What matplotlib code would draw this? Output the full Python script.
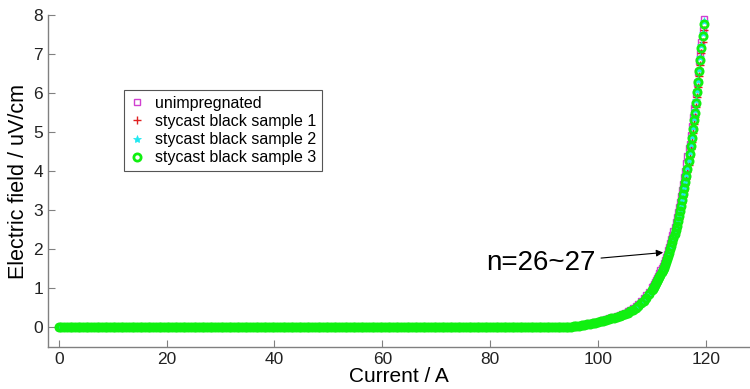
import numpy as np
import matplotlib
matplotlib.use("Agg")
import matplotlib.pyplot as plt

plt.rcParams['font.family'] = ['Liberation Sans', 'DejaVu Sans']

# measurement grid (A): coarse on the flat part, finer on the knee
I_flat = np.arange(0, 90, 0.5)
I_knee = np.arange(90, 110, 0.5)
I_top = np.arange(110, 119.61, 0.2)
current = np.concatenate([I_flat, I_knee, I_top])

# electric field (uV/cm)
E_flat = [0.0] * len(I_flat)

unimp_knee = [0.004, 0.005, 0.006, 0.007, 0.008, 0.010, 0.011, 0.013, 0.014, 0.016,
              0.024, 0.032, 0.040, 0.050, 0.064, 0.074, 0.085, 0.102, 0.115, 0.128,
              0.149, 0.169, 0.192, 0.216, 0.231, 0.248, 0.268, 0.289, 0.315, 0.342,
              0.375, 0.410, 0.450, 0.496, 0.548, 0.606, 0.671, 0.744, 0.826, 0.920]
unimp_top = [1.03, 1.07, 1.11, 1.17, 1.22, 1.27, 1.33, 1.39, 1.46, 1.52,
             1.58, 1.66, 1.73, 1.81, 1.89, 1.98, 2.07, 2.16, 2.26, 2.36,
             2.47, 2.58, 2.70, 2.82, 2.95, 3.08, 3.22, 3.37, 3.52, 3.68,
             3.85, 4.02, 4.21, 4.40, 4.60, 4.71, 4.94, 5.16, 5.39, 5.63,
             5.73, 5.99, 6.26, 6.54, 6.83, 7.02, 7.32, 7.62, 7.90]

s1_knee = [0.004, 0.005, 0.006, 0.007, 0.008, 0.009, 0.010, 0.011, 0.013, 0.014,
           0.022, 0.029, 0.037, 0.046, 0.059, 0.068, 0.078, 0.093, 0.105, 0.116,
           0.135, 0.153, 0.174, 0.196, 0.210, 0.225, 0.243, 0.262, 0.285, 0.310,
           0.340, 0.372, 0.408, 0.450, 0.497, 0.549, 0.608, 0.674, 0.749, 0.834]
s1_top = [0.93, 0.97, 1.01, 1.06, 1.11, 1.15, 1.20, 1.26, 1.32, 1.38,
          1.44, 1.50, 1.57, 1.64, 1.72, 1.79, 1.87, 1.96, 2.05, 2.14,
          2.24, 2.34, 2.44, 2.56, 2.68, 2.79, 2.92, 3.06, 3.19, 3.34,
          3.49, 3.65, 3.81, 3.99, 4.17, 4.36, 4.56, 4.76, 4.98, 5.20,
          5.39, 5.65, 5.90, 6.16, 6.43, 6.72, 7.02, 7.32, 7.61]

s2_knee = [0.004, 0.005, 0.006, 0.007, 0.008, 0.009, 0.010, 0.012, 0.013, 0.015,
           0.023, 0.030, 0.038, 0.047, 0.061, 0.070, 0.080, 0.096, 0.108, 0.120,
           0.139, 0.158, 0.179, 0.202, 0.216, 0.232, 0.250, 0.270, 0.294, 0.320,
           0.350, 0.383, 0.421, 0.464, 0.512, 0.566, 0.627, 0.695, 0.772, 0.860]
s2_top = [0.96, 1.00, 1.04, 1.09, 1.14, 1.19, 1.24, 1.30, 1.36, 1.42,
          1.48, 1.55, 1.62, 1.69, 1.77, 1.85, 1.93, 2.02, 2.11, 2.21,
          2.31, 2.41, 2.52, 2.64, 2.76, 2.88, 3.01, 3.15, 3.29, 3.44,
          3.60, 3.76, 3.93, 4.11, 4.30, 4.49, 4.70, 4.91, 5.13, 5.36,
          5.56, 5.82, 6.08, 6.35, 6.63, 6.93, 7.24, 7.55, 7.85]

s3_knee = [0.004, 0.005, 0.006, 0.007, 0.008, 0.009, 0.010, 0.012, 0.013, 0.015,
           0.023, 0.030, 0.038, 0.047, 0.060, 0.069, 0.079, 0.095, 0.107, 0.119,
           0.138, 0.156, 0.177, 0.200, 0.214, 0.230, 0.248, 0.267, 0.291, 0.317,
           0.347, 0.379, 0.417, 0.459, 0.507, 0.560, 0.621, 0.688, 0.764, 0.851]
s3_top = [0.95, 0.99, 1.03, 1.08, 1.13, 1.18, 1.23, 1.29, 1.35, 1.41,
          1.47, 1.53, 1.60, 1.67, 1.75, 1.83, 1.91, 2.00, 2.09, 2.19,
          2.29, 2.39, 2.49, 2.61, 2.73, 2.85, 2.98, 3.12, 3.26, 3.41,
          3.56, 3.72, 3.89, 4.07, 4.26, 4.45, 4.65, 4.86, 5.08, 5.31,
          5.50, 5.76, 6.02, 6.29, 6.56, 6.86, 7.17, 7.47, 7.77]

E_unimp = E_flat + unimp_knee + unimp_top
E_s1 = E_flat + s1_knee + s1_top
E_s2 = E_flat + s2_knee + s2_top
E_s3 = E_flat + s3_knee + s3_top

labels = ['unimpregnated', 'stycast black sample 1',
          'stycast black sample 2', 'stycast black sample 3']

fig = plt.figure(figsize=(7.5, 3.89), dpi=100)
ax = fig.add_axes([0.064, 0.108, 0.936, 0.853])

ax.plot(current, E_unimp, ls='none', marker='s', ms=4.5, mfc='none',
        mec='#d040d0', mew=1.0, label=labels[0])
ax.plot(current, E_s1, ls='none', marker='+', ms=6, mec='#e02020',
        mew=1.0, label=labels[1])
ax.plot(current, E_s2, ls='none', marker='*', ms=6, mfc='#20e8f0',
        mec='#20e8f0', mew=0.5, label=labels[2])
ax.plot(current, E_s3, ls='none', marker='o', ms=5.2, mfc='none',
        mec='#10f010', mew=2.0, label=labels[3])

ax.set_xlim(-2, 128.2)
ax.set_ylim(-0.5, 8)
ax.set_xticks([0, 20, 40, 60, 80, 100, 120])
ax.set_yticks(range(0, 9))

for side in ['top', 'right']:
    ax.spines[side].set_visible(False)
for side in ['left', 'bottom']:
    ax.spines[side].set_color('#808080')
    ax.spines[side].set_linewidth(1.0)
ax.tick_params(direction='in', length=5, color='#808080', labelsize=12.5,
               labelcolor='#222222')

ax.set_xlabel('Current / A', fontsize=15, labelpad=0)
ax.set_ylabel('Electric field / uV/cm', fontsize=15.5, labelpad=3)

leg = ax.legend(loc='upper left', bbox_to_anchor=(0.108, 0.774), fontsize=11.5,
                numpoints=1, handlelength=1.0, handletextpad=0.6,
                labelspacing=0.2, borderpad=0.35, borderaxespad=0,
                fancybox=False, framealpha=1)
leg.get_frame().set_edgecolor('#555555')
leg.get_frame().set_linewidth(0.8)

ax.annotate('n=26~27', xy=(112.1, 1.92), xytext=(89.4, 1.64),
            fontsize=20, ha='center', va='center',
            arrowprops=dict(arrowstyle='-|>', color='k', lw=0.8,
                            mutation_scale=10, shrinkA=2, shrinkB=0))

fig.savefig('out.png', dpi=100)
